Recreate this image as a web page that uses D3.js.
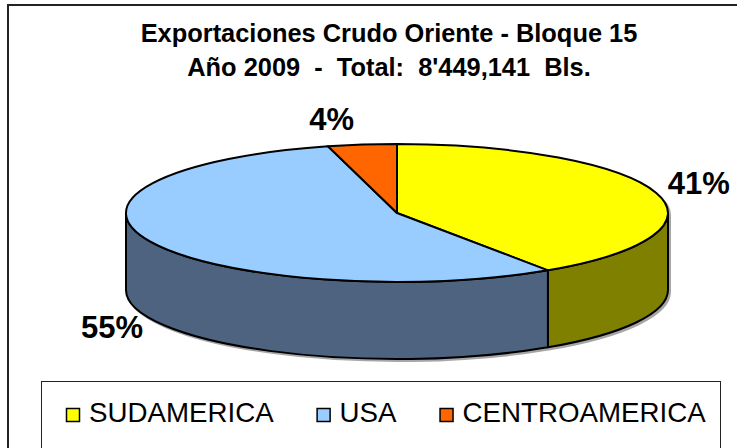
<!DOCTYPE html>
<html><head><meta charset="utf-8">
<script src="https://cdn.jsdelivr.net/npm/d3@7"></script>
<style>html,body{margin:0;padding:0;background:#fff;overflow:hidden}svg{display:block}</style>
</head><body>
<div id="chart"></div>
<script>
// ---- data ----
const categories = ["SUDAMERICA", "USA", "CENTROAMERICA"];
const shares = [40.6, 55.3, 4.1];      // estimated percent of total exports
const titleLines = ["Exportaciones Crudo Oriente - Bloque 15", "Año 2009  -  Total:  8'449,141  Bls."];

// ---- styles ----
const topColors = ["#FFFF00", "#99CCFF", "#FF6600"];
const sideColors = ["#808000", "#4E6380", "#803300"];

const W = 737, H = 448;
const svg = d3.select("#chart").append("svg").attr("width", W).attr("height", H)
  .style("font-family", "'Liberation Sans', Arial, sans-serif");

// outer frame
svg.append("rect").attr("x", 8).attr("y", 5).attr("width", 760).attr("height", 480)
  .attr("fill", "#fff").attr("stroke", "#222").attr("stroke-width", 2);

// title
svg.append("g").selectAll("text").data(titleLines).join("text")
  .attr("x", 389).attr("y", (d, i) => 42 + i * 34)
  .attr("text-anchor", "middle").attr("font-weight", "bold").attr("font-size", 25.4)
  .attr("fill", "#000").style("white-space", "pre").attr("xml:space", "preserve")
  .text(d => d);

// pie geometry
const cx = 397, cy = 213, rx = 271, ry = 69, depth = 77;
const pie = d3.pie().sort(null).value(d => d)
  .startAngle(0).endAngle(2 * Math.PI);
const arcs = pie(shares);
const total = d3.sum(shares);
const pctFmt = v => Math.round(v / total * 100) + "%";
const P = (t, dz = 0) => [cx + rx * Math.sin(t), cy - ry * Math.cos(t) + dz];
const fmt = p => p[0].toFixed(2) + "," + p[1].toFixed(2);

const defs = svg.append("defs");
const f = defs.append("filter").attr("id", "sh").attr("x", "-10%").attr("y", "-10%").attr("width", "120%").attr("height", "130%");
f.append("feDropShadow").attr("dx", 2).attr("dy", 2).attr("stdDeviation", 0.6)
  .attr("flood-color", "#000").attr("flood-opacity", 0.35);

const pieG = svg.append("g").attr("filter", "url(#sh)");

// side faces (front half visible: angles between PI/2 and 3PI/2)
arcs.forEach((a, i) => {
  const s0 = Math.max(a.startAngle, Math.PI / 2);
  const s1 = Math.min(a.endAngle, 3 * Math.PI / 2);
  if (s1 <= s0) return;
  const large = (s1 - s0) > Math.PI ? 1 : 0;
  const d = "M" + fmt(P(s0)) +
    "A" + rx + "," + ry + " 0 " + large + " 1 " + fmt(P(s1)) +
    "L" + fmt(P(s1, depth)) +
    "A" + rx + "," + ry + " 0 " + large + " 0 " + fmt(P(s0, depth)) + "Z";
  pieG.append("path").attr("d", d).attr("fill", sideColors[i])
    .attr("stroke", "#000").attr("stroke-width", 2).attr("stroke-linejoin", "round");
});

// top faces
arcs.forEach((a, i) => {
  const large = (a.endAngle - a.startAngle) > Math.PI ? 1 : 0;
  const d = "M" + cx + "," + cy + "L" + fmt(P(a.startAngle)) +
    "A" + rx + "," + ry + " 0 " + large + " 1 " + fmt(P(a.endAngle)) + "Z";
  pieG.append("path").attr("d", d).attr("fill", topColors[i])
    .attr("stroke", "#000").attr("stroke-width", 2).attr("stroke-linejoin", "round");
});

// percentage labels
const nudge = [[9, -1], [-6, -4], [-26, 4]];
arcs.forEach((a, i) => {
  const m = (a.startAngle + a.endAngle) / 2;
  const x = cx + (rx + 35) * Math.sin(m) + nudge[i][0];
  const y = cy - (ry + 30) * Math.cos(m) + (Math.cos(m) < 0 ? depth : 0) + nudge[i][1];
  svg.append("text").attr("x", x).attr("y", y + 11)
    .attr("text-anchor", "middle").attr("font-weight", "bold").attr("font-size", 31)
    .attr("fill", "#000").text(pctFmt(a.data));
});

// legend
svg.append("rect").attr("x", 41.5).attr("y", 381.5).attr("width", 679).attr("height", 120)
  .attr("fill", "#fff").attr("stroke", "#222").attr("stroke-width", 1);
const lg = svg.append("g");
let lx = 66;
categories.forEach((c, i) => {
  lg.append("rect").attr("x", lx + 0.5).attr("y", 408.5).attr("width", 13).attr("height", 13)
    .attr("fill", topColors[i]).attr("stroke", "#000").attr("stroke-width", 1.5);
  const t = lg.append("text").attr("x", lx + 23).attr("y", 422)
    .attr("font-size", 27.7).attr("fill", "#000").text(c);
  const w = t.node().getComputedTextLength();
  lx = lx + 23 + w + 43;
});
</script>
</body></html>
